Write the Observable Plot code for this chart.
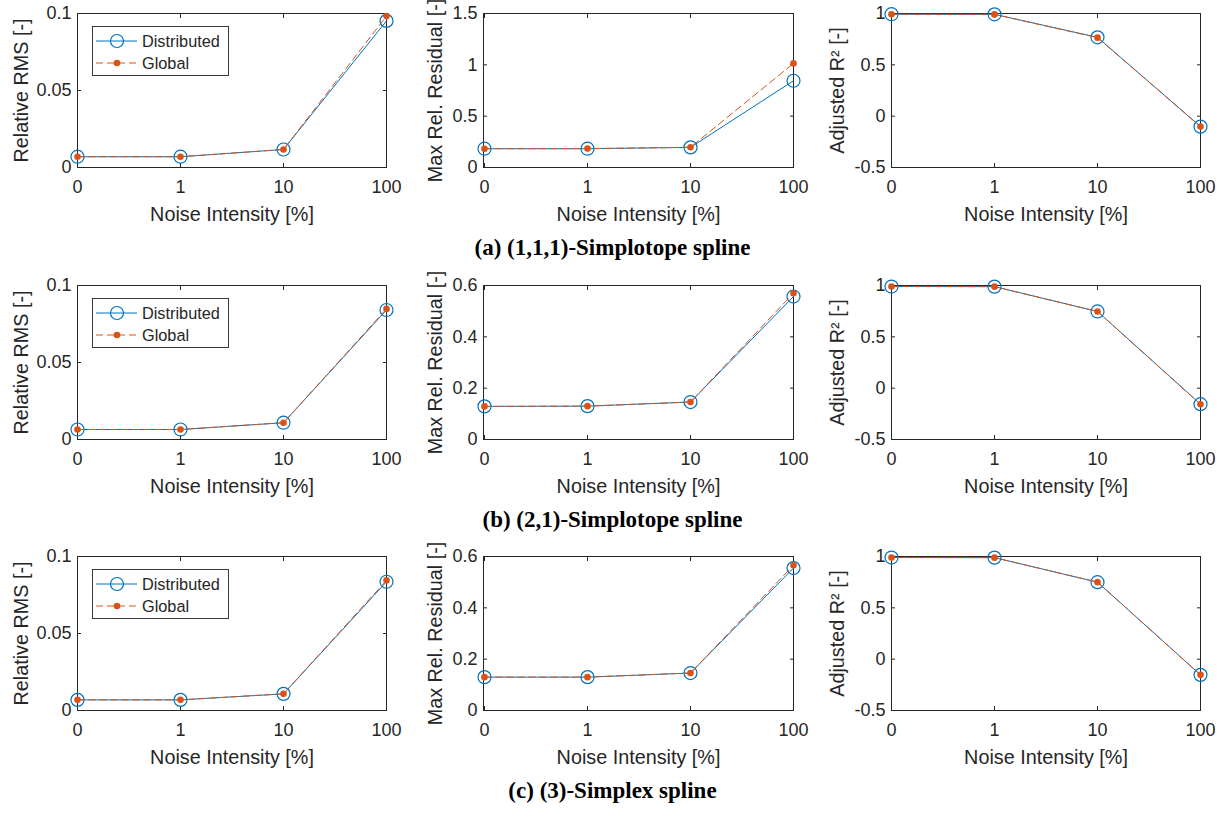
<!DOCTYPE html>
<html><head><meta charset="utf-8">
<script src="https://cdn.jsdelivr.net/npm/d3@7"></script>
<script src="https://cdn.jsdelivr.net/npm/@observablehq/plot@0.6"></script>
<style>
html,body{margin:0;padding:0;background:#fff;}
#fig{position:relative;width:1225px;height:814px;overflow:hidden;background:#fff;}
.panel{position:absolute;}
.legend{position:absolute;}
.caption{position:absolute;left:0;width:1225px;text-align:center;font-family:"Liberation Serif","Times New Roman",serif;font-weight:bold;font-size:23px;line-height:26px;color:#000;}
</style></head><body><div id="fig"></div>
<script>
// ---- data ----
const noise = ["0", "1", "10", "100"];
const xTitle = "Noise Intensity [%]";
const yTitles = ["Relative RMS [-]", "Max Rel. Residual [-]", "Adjusted R\u00B2 [-]"];
const legendLabels = ["Distributed", "Global"];
const captions = ["(a) (1,1,1)-Simplotope spline", "(b) (2,1)-Simplotope spline", "(c) (3)-Simplex spline"];

const rmsTicks = [0, 0.05, 0.1];
const resTicksA = [0, 0.5, 1, 1.5];
const resTicksBC = [0, 0.2, 0.4, 0.6];
const r2Ticks = [-0.5, 0, 0.5, 1];

// (a) (1,1,1)-Simplotope spline
const rmsDistA = [0.0070, 0.0070, 0.0117, 0.0952];
const rmsGlobA = [0.0070, 0.0070, 0.0117, 0.0983];
const resDistA = [0.183, 0.183, 0.196, 0.845];
const resGlobA = [0.183, 0.184, 0.197, 1.014];
const r2DistA = [0.993, 0.992, 0.768, -0.102];
const r2GlobA = [0.992, 0.991, 0.765, -0.101];
// (b) (2,1)-Simplotope spline
const rmsDistB = [0.0065, 0.0065, 0.0109, 0.0841];
const rmsGlobB = [0.0065, 0.0065, 0.0109, 0.0848];
const resDistB = [0.129, 0.130, 0.146, 0.557];
const resGlobB = [0.129, 0.130, 0.146, 0.570];
const r2DistB = [0.990, 0.989, 0.747, -0.156];
const r2GlobB = [0.990, 0.989, 0.747, -0.156];
// (c) (3)-Simplex spline
const rmsDistC = [0.0069, 0.0069, 0.0108, 0.0836];
const rmsGlobC = [0.0069, 0.0069, 0.0108, 0.0845];
const resDistC = [0.130, 0.130, 0.146, 0.555];
const resGlobC = [0.130, 0.130, 0.146, 0.566];
const r2DistC = [0.990, 0.989, 0.750, -0.153];
const r2GlobC = [0.990, 0.989, 0.750, -0.153];

// ---- styling / layout ----
const ink = "#262626";
const blue = "#0072BD";
const orange = "#D95319";
const sans = "'Liberation Sans', Arial, Helvetica, sans-serif";
const colLeft = [77, 483, 891];
const colWidth = [309, 310, 309];
const rowTop = [13, 285, 556];
const frameH = 154;
const yTitleOffset = [64, 56, 62];
const captionCenter = [248, 520, 791];
const ML = 70, MR = 18, MT = 13, MB = 65;

const panels = [
  [ {dist: rmsDistA, glob: rmsGlobA, domain: [0, 0.1], ticks: rmsTicks},
    {dist: resDistA, glob: resGlobA, domain: [0, 1.5], ticks: resTicksA},
    {dist: r2DistA, glob: r2GlobA, domain: [-0.5, 1], ticks: r2Ticks} ],
  [ {dist: rmsDistB, glob: rmsGlobB, domain: [0, 0.1], ticks: rmsTicks},
    {dist: resDistB, glob: resGlobB, domain: [0, 0.6], ticks: resTicksBC},
    {dist: r2DistB, glob: r2GlobB, domain: [-0.5, 1], ticks: r2Ticks} ],
  [ {dist: rmsDistC, glob: rmsGlobC, domain: [0, 0.1], ticks: rmsTicks},
    {dist: resDistC, glob: resGlobC, domain: [0, 0.6], ticks: resTicksBC},
    {dist: r2DistC, glob: r2GlobC, domain: [-0.5, 1], ticks: r2Ticks} ]
];

const fig = document.getElementById("fig");

panels.forEach((row, r) => {
  row.forEach((spec, c) => {
    const W = ML + colWidth[c] + MR, H = MT + frameH + MB;
    const data = noise.map((n, i) => ({n, d: spec.dist[i], g: spec.glob[i]}));
    const chart = Plot.plot({
      width: W, height: H,
      marginLeft: ML, marginRight: MR, marginTop: MT, marginBottom: MB,
      style: {fontFamily: sans, fontSize: "18px", color: ink, background: "transparent"},
      x: {type: "point", domain: noise, padding: 0},
      y: {domain: spec.domain},
      marks: [
        Plot.axisX({tickSize: 0, tickPadding: 13, label: null, fontSize: 18}),
        Plot.axisY({ticks: spec.ticks, tickFormat: d => String(d), tickSize: 0, tickPadding: 6, label: null, fontSize: 18}),
        Plot.axisX({anchor: "bottom", tickSize: -4, fill: "none", label: null}),
        Plot.axisX({anchor: "top", tickSize: -4, fill: "none", label: null}),
        Plot.axisY({anchor: "left", ticks: spec.ticks, tickSize: -4, fill: "none", label: null}),
        Plot.axisY({anchor: "right", ticks: spec.ticks, tickSize: -4, fill: "none", label: null}),
        Plot.frame({stroke: ink, strokeWidth: 1}),
        Plot.line(data, {x: "n", y: "d", stroke: blue, strokeWidth: 1}),
        Plot.dot(data, {x: "n", y: "d", r: 6.5, stroke: blue, strokeWidth: 1.2, fill: "none"}),
        Plot.line(data, {x: "n", y: "g", stroke: orange, strokeWidth: 1, strokeDasharray: "7,4"}),
        Plot.dot(data, {x: "n", y: "g", r: 3.3, fill: orange, stroke: "none"}),
        Plot.text([xTitle], {text: d => d, frameAnchor: "bottom", textAnchor: "middle", lineAnchor: "bottom", dy: 53, fontSize: 19.8, fill: ink}),
        Plot.text([yTitles[c]], {text: d => d, frameAnchor: "left", textAnchor: "middle", rotate: -90, lineAnchor: "top", dx: -yTitleOffset[c], fontSize: 19.8, fill: ink})
      ]
    });
    const div = document.createElement("div");
    div.className = "panel";
    div.style.left = (colLeft[c] - ML) + "px";
    div.style.top = (rowTop[r] - MT) + "px";
    div.style.width = W + "px";
    div.style.height = H + "px";
    div.appendChild(chart);
    fig.appendChild(div);
  });

  // legend (first column)
  const lg = d3.select(fig).append("svg").attr("class", "legend")
    .style("left", (colLeft[0] + 15) + "px").style("top", (rowTop[r] + 13) + "px")
    .attr("width", 138).attr("height", 51);
  lg.append("rect").attr("x", 0.5).attr("y", 0.5).attr("width", 136).attr("height", 49)
    .attr("fill", "#fff").attr("stroke", ink).attr("stroke-width", 0.9);
  const rowsY = [15, 37];
  lg.append("line").attr("x1", 4).attr("x2", 45).attr("y1", rowsY[0]).attr("y2", rowsY[0]).attr("stroke", blue).attr("stroke-width", 1);
  lg.append("circle").attr("cx", 25).attr("cy", rowsY[0]).attr("r", 6.5).attr("fill", "none").attr("stroke", blue).attr("stroke-width", 1.2);
  lg.append("line").attr("x1", 4).attr("x2", 45).attr("y1", rowsY[1]).attr("y2", rowsY[1]).attr("stroke", orange).attr("stroke-width", 1).attr("stroke-dasharray", "7,4");
  lg.append("circle").attr("cx", 25).attr("cy", rowsY[1]).attr("r", 3.3).attr("fill", orange);
  legendLabels.forEach((t, i) => {
    lg.append("text").attr("x", 50).attr("y", rowsY[i]).attr("dominant-baseline", "central")
      .attr("font-family", sans).attr("font-size", 16.3).attr("fill", ink).text(t);
  });

  // caption
  const cap = document.createElement("div");
  cap.className = "caption";
  cap.style.top = (captionCenter[r] - 13) + "px";
  cap.textContent = captions[r];
  fig.appendChild(cap);
});
</script></body></html>
